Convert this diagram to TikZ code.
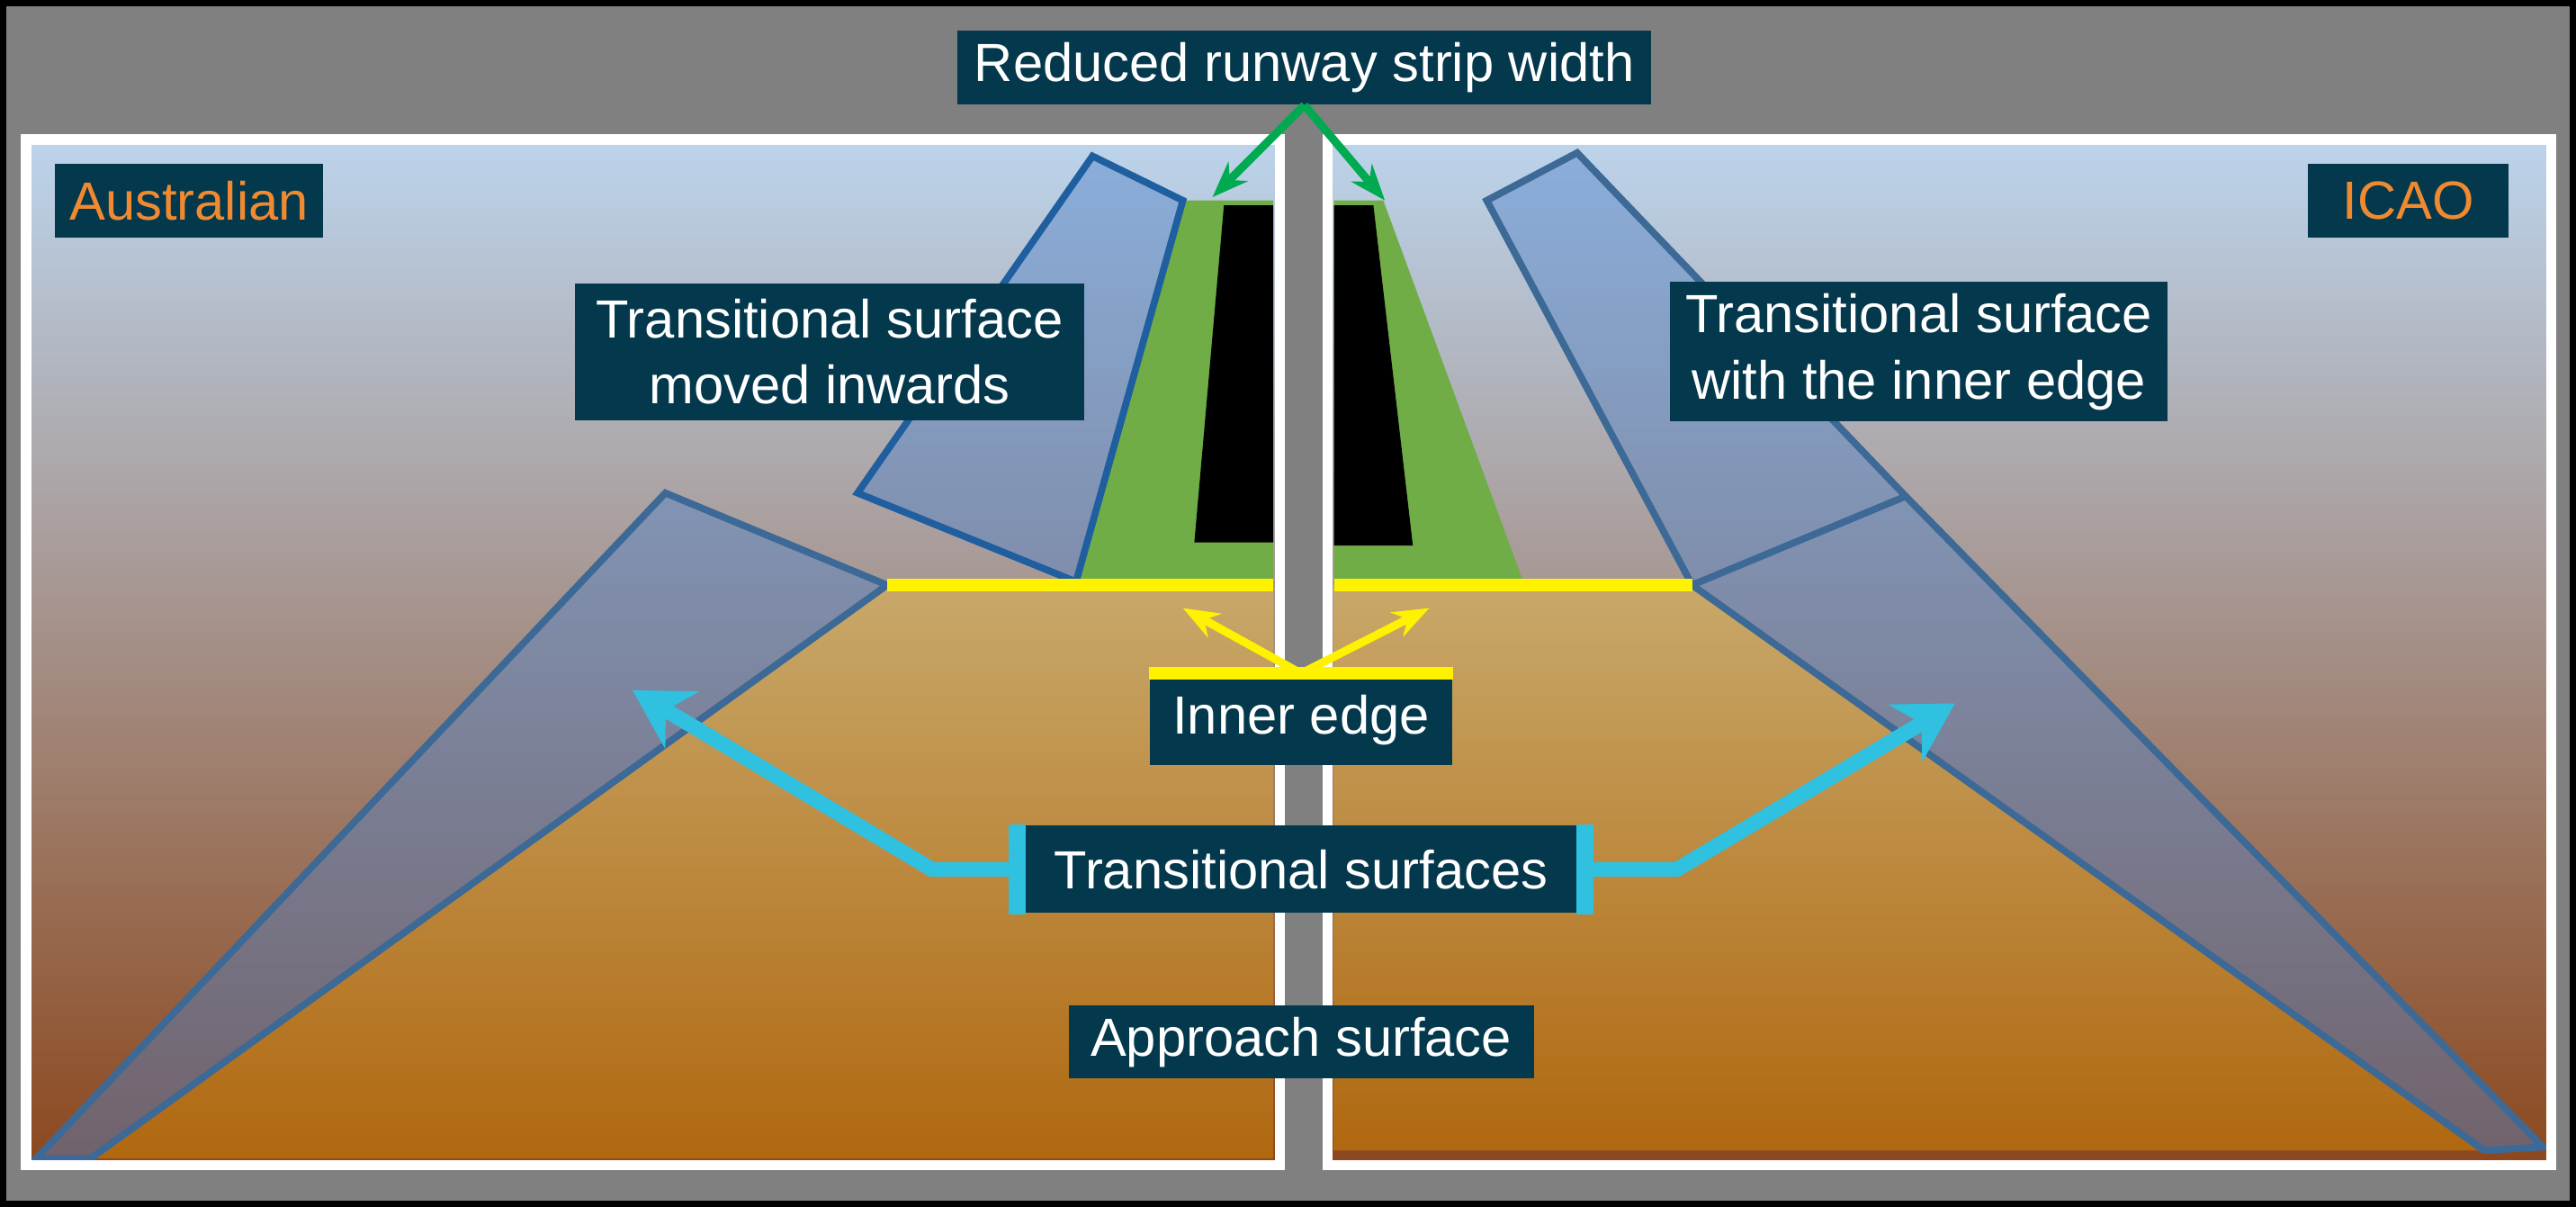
\documentclass[tikz,border=0pt]{standalone}
\usepackage{fontspec}
\setmainfont{Liberation Sans}
\usetikzlibrary{positioning,calc,arrows.meta}
\definecolor{boxteal}{RGB}{4,56,76}
\definecolor{skytop}{RGB}{188,212,236}
\definecolor{skybot}{RGB}{140,72,30}
\definecolor{apptop}{RGB}{200,168,106}
\definecolor{appbot}{RGB}{176,104,16}
\definecolor{stripgreen}{RGB}{112,173,71}
\definecolor{surfblue}{RGB}{80,130,200}
\definecolor{edgeblue}{RGB}{31,95,160}
\definecolor{arrowcyan}{RGB}{48,192,224}
\definecolor{arrowgreen}{RGB}{0,170,80}
\definecolor{labelorange}{RGB}{240,138,48}
\tikzset{
  figfont/.style={font=\fontsize{9.3}{11.5}\selectfont},
  labelbox/.style={fill=boxteal, text=white, align=center, inner sep=2pt, figfont},
  surface/.style={fill=surfblue, fill opacity=0.45, draw=edgeblue, line width=1.2pt},
  innerline/.style={draw=yellow, line width=2.2pt},
  innerarrow/.style={-{Stealth[length=2.2mm]}, yellow, line width=1.4pt},
  striparrow/.style={-{Stealth[length=2.2mm]}, arrowgreen, line width=1.4pt},
  surfarrow/.style={-{Stealth[length=3.5mm,width=4mm]}, arrowcyan, line width=2.6pt},
}
\begin{document}
\begin{tikzpicture}[x=0.01cm,y=-0.01cm,figfont]
  % Background and frame
  \fill[gray] (0,0) rectangle (1568,734);
  \useasboundingbox (0,0) rectangle (1568,734);
  \draw[black, line width=1.5pt] (1,1) rectangle (1567,733);

  % Panels
  \shade[top color=skytop, bottom color=skybot] (16,85) rectangle (779,709);
  \shade[top color=skytop, bottom color=skybot] (808,85) rectangle (1553,709);

  % Approach surfaces
  \shade[top color=apptop, bottom color=appbot] (540,356) -- (775,356) -- (775,705) -- (55,705) -- cycle;
  \shade[top color=apptop, bottom color=appbot] (812,356) -- (1030,356) -- (1512,700) -- (812,700) -- cycle;

  % Runway strips and runways
  \fill[stripgreen] (720,122) -- (775,122) -- (775,356) -- (655,356) -- cycle;
  \fill[black] (745,125) -- (775,125) -- (775,330) -- (727,330) -- cycle;
  \fill[stripgreen] (812,122) -- (842,122) -- (928,356) -- (812,356) -- cycle;
  \fill[black] (812,125) -- (836,125) -- (860,332) -- (812,332) -- cycle;

  % Transitional surfaces, Australian side
  \draw[surface] (665,95) -- (720,122) -- (655,354) -- (522,300) -- cycle;
  \draw[surface, draw=edgeblue!70!gray] (405,300) -- (540,356) -- (55,705) -- (22,705) -- cycle;

  % Transitional surfaces, ICAO side
  \draw[surface, draw=edgeblue!70!gray] (905,122) -- (960,93) -- (1160,302) -- (1548,698) -- (1512,700) -- (1030,356) -- cycle;
  \draw[edgeblue!70!gray, line width=1.2pt] (1030,356) -- (1160,302);

  % Panel borders
  \draw[white, line width=1.8pt] (16,85) rectangle (779,709);
  \draw[white, line width=1.8pt] (808,85) rectangle (1553,709);

  % Inner edges
  \draw[innerline] (540,356) -- (775,356);
  \draw[innerline] (812,356) -- (1030,356);

  % Labels
  \node[labelbox, minimum width=4.22cm, minimum height=0.42cm] (strip) at (794,41) {Reduced runway strip width};
  \node[labelbox, text=labelorange, minimum width=1.63cm, minimum height=0.45cm] (aus) at (115,122) {Australian};
  \node[labelbox, text=labelorange, minimum width=1.22cm, minimum height=0.45cm] (icao) at (1466,122) {ICAO};
  \node[labelbox, minimum width=3.1cm, minimum height=0.83cm] (movedin) at (505,214) {Transitional surface\\moved inwards};
  \node[labelbox, minimum width=3.03cm, minimum height=0.83cm] (withedge) at (1168,214) {Transitional surface\\with the inner edge};
  \node[labelbox, minimum width=1.84cm, minimum height=0.55cm] (inner) at (792,438) {Inner edge};
  \node[labelbox, minimum width=3.44cm, minimum height=0.53cm] (trans) at (792,529) {Transitional surfaces};
  \node[labelbox, minimum width=2.83cm, minimum height=0.44cm] (approach) at (792,634) {Approach surface};

  % Strip arrows
  \coordinate (stripL) at (738,120);
  \coordinate (stripR) at (843,122);
  \draw[striparrow] (strip.south) -- (stripL);
  \draw[striparrow] (strip.south) -- (stripR);

  % Inner edge bar and arrows
  \draw[innerline] (inner.north west) -- (inner.north east);
  \coordinate (edgeL) at (720,370);
  \coordinate (edgeR) at (870,370);
  \draw[innerarrow] (inner.north) -- (edgeL);
  \draw[innerarrow] (inner.north) -- (edgeR);

  % Transitional surfaces bars and arrows
  \draw[arrowcyan, line width=3pt] (trans.north west) -- (trans.south west);
  \draw[arrowcyan, line width=3pt] (trans.north east) -- (trans.south east);
  \coordinate (transL) at (385,420);
  \coordinate (transR) at (1190,428);
  \draw[surfarrow] (trans.west) -- ++(-52,0) -- (transL);
  \draw[surfarrow] (trans.east) -- ++(56,0) -- (transR);
\end{tikzpicture}
\end{document}
